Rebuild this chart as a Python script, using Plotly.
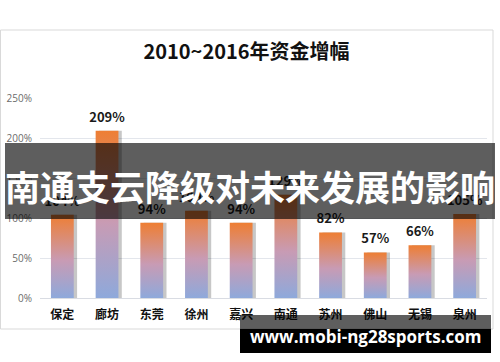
import plotly.graph_objects as go

categories = ["保定", "廊坊", "东莞", "徐州", "嘉兴", "南通", "苏州", "佛山", "无锡", "泉州"]
growth_pct = [104, 209, 94, 109, 94, 129, 82, 57, 66, 105]
value_labels = ["104%", "209%", "94%", "109%", "94%", "129%", "82%", "57%", "66%", "105%"]
y_ticks = [0, 50, 100, 150, 200, 250]
y_tick_labels = ["0%", "50%", "100%", "150%", "200%", "250%"]

title_text = "2010~2016年资金增幅"
banner_text = "南通支云降级对未来发展的影响"
site_text = "www.mobi-ng28sports.com"

W, H = 500, 362
ML, MR, MT, MB = 40, 13, 98, 64
PW, PH = W - ML - MR, H - MT - MB


def px(x):
    return (x - ML) / PW


def py(y):
    return (H - MB - y) / PH


CJK = "Noto Sans CJK SC"
xs = list(range(len(categories)))
half = 0.255

fig = go.Figure()

# shadow behind bars
fig.add_trace(go.Bar(
    x=xs, y=growth_pct, width=2 * half, offset=-half + 0.075,
    marker=dict(color="rgba(0,0,0,0.22)", line=dict(width=0)),
    hoverinfo="skip", showlegend=False,
))

# gradient bars
for i, v in zip(xs, growth_pct):
    fig.add_trace(go.Scatter(
        x=[i - half, i + half, i + half, i - half, i - half],
        y=[0, 0, v, v, 0],
        mode="lines", fill="toself",
        line=dict(width=0, color="rgba(0,0,0,0)"),
        fillgradient=dict(
            type="vertical",
            colorscale=[[0, "#8EA9DB"], [0.45, "#C89BB4"], [1, "#EE7E33"]],
        ),
        hoverinfo="skip", showlegend=False,
    ))

# value labels
fig.add_trace(go.Scatter(
    x=xs, y=growth_pct, mode="markers+text",
    text=["<b>%s</b>" % t for t in value_labels],
    textposition="top center",
    marker=dict(size=8, opacity=0),
    textfont=dict(family=CJK, size=13, color="#1a1a1a"),
    hoverinfo="skip", showlegend=False,
))

shapes = [
    # chart border
    dict(type="rect", xref="paper", yref="paper",
         x0=px(0.5), x1=px(493), y0=py(30), y1=py(329),
         line=dict(color="#D9D9D9", width=1), fillcolor="rgba(0,0,0,0)", layer="below"),
    # dark banner
    dict(type="rect", xref="paper", yref="paper",
         x0=px(5), x1=px(495), y0=py(143), y1=py(219),
         line=dict(width=0), fillcolor="rgba(0,0,0,0.63)", layer="above"),
    # bottom site box
    dict(type="rect", xref="paper", yref="paper",
         x0=px(240), x1=px(491), y0=py(315), y1=py(329),
         line=dict(width=0), fillcolor="rgba(0,0,0,0.63)", layer="above"),
    dict(type="rect", xref="paper", yref="paper",
         x0=px(240), x1=px(491), y0=py(329), y1=py(353),
         line=dict(width=0), fillcolor="#000000", layer="above"),
]

annotations = [
    dict(text="<b>%s</b>" % banner_text, xref="paper", yref="paper",
         x=px(250), y=py(185), showarrow=False, xanchor="center", yanchor="middle",
         font=dict(family=CJK, size=35, color="white")),
    dict(text="<b>%s</b>" % site_text, xref="paper", yref="paper",
         x=px(365), y=py(336), showarrow=False, xanchor="center", yanchor="middle",
         font=dict(family="Open Sans", size=17, color="white")),
]

fig.update_layout(
    width=W, height=H,
    margin=dict(l=ML, r=MR, t=MT, b=MB, pad=0, autoexpand=False),
    paper_bgcolor="white", plot_bgcolor="white",
    title=dict(text="<b>%s</b>" % title_text, x=246.5 / W, y=1 - 52 / H,
               xanchor="center", yanchor="middle",
               font=dict(family=CJK, size=20, color="#111111")),
    xaxis=dict(range=[-0.5, len(categories) - 0.5], tickvals=xs,
               ticktext=["<b>%s</b>" % c for c in categories],
               tickfont=dict(family=CJK, size=12, color="#111111"),
               showgrid=False, zeroline=False, showline=False, ticks="",
               ticklabelstandoff=8, automargin=False, fixedrange=True),
    yaxis=dict(range=[0, 250], tickvals=y_ticks, ticktext=y_tick_labels,
               tickfont=dict(family="Open Sans", size=10, color="#6b6b6b"),
               showgrid=True, gridcolor="#E3E6EC", gridwidth=1,
               zeroline=True, zerolinecolor="#D9DCE3", zerolinewidth=1,
               showline=False, ticks="", ticklabelstandoff=7,
               automargin=False, fixedrange=True),
    shapes=shapes, annotations=annotations,
    bargap=0.5, showlegend=False,
)

fig.write_html(
    "out.html",
    config={"displayModeBar": False},
    post_script="document.body.style.margin='0';document.body.style.overflow='hidden';",
)
